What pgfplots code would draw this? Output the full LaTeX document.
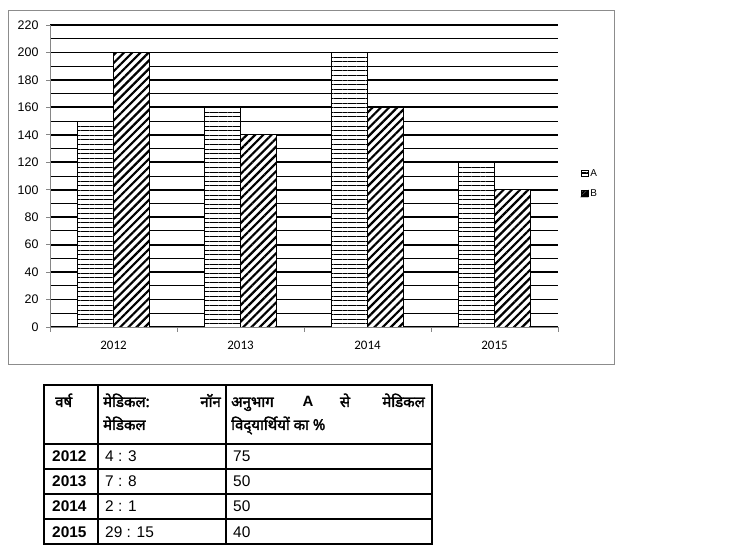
\documentclass[border=0pt]{standalone}
\usepackage{fontspec}
\setmainfont{Liberation Sans}
\newfontfamily\chartfont{Carlito}
\newfontfamily\devfont[Script=Devanagari, FakeBold=2.2]{Noto Sans}
\usepackage{pgfplots}
\pgfplotsset{compat=1.18}
\usetikzlibrary{patterns.meta}
\definecolor{axgray}{HTML}{868686}
\definecolor{framegray}{HTML}{8C8C8C}

\pgfplotstableread{
x  A    B
0  150  200
1  160  140
2  200  160
3  120  100
}\chartdata

\begin{document}
\begin{tikzpicture}
\useasboundingbox (0,0) rectangle (740bp,554bp);
% chart frame
\draw[framegray, line width=0.9bp] (8bp,190bp) rectangle (614bp,544bp);
\begin{axis}[
  at={(50bp,227bp)}, anchor=south west,
  scale only axis, width=508bp, height=302bp,
  xmin=-0.5, xmax=3.5, ymin=0, ymax=220,
  ytick={0,20,...,220}, minor ytick={10,30,...,210},
  xtick={0,1,2,3}, xticklabels={2012,2013,2014,2015},
  minor xtick={-0.5,0.5,1.5,2.5,3.5},
  axis lines*=left,
  axis line style={axgray, line width=0.8bp},
  tick align=outside,
  major tick length=4bp, minor tick length=5bp,
  major x tick style={draw=none},
  minor x tick style={axgray, line width=0.8bp},
  minor y tick style={draw=none},
  major y tick style={axgray, line width=0.8bp},
  ymajorgrids, yminorgrids,
  major grid style={black, line width=1.8bp},
  minor grid style={black, line width=0.9bp},
  ybar=0pt, bar width=36bp,
  /pgf/number format/assume math mode=true,
  xticklabel style={font=\chartfont\fontsize{13}{14}\selectfont, yshift=-7bp},
  yticklabel style={font=\fontsize{12.5}{13}\selectfont, xshift=-4bp},
  legend style={at={(1.039,0.475)}, anchor=west, draw=none, fill=none,
    font=\fontsize{10}{10}\selectfont, row sep=8bp,
    /tikz/every even column/.append style={column sep=1bp}},
]
\addplot[draw=black, line width=0.8bp, fill=white,
  postaction={pattern={Lines[angle=0, distance=4.6bp, line width=1bp]}},
  legend image code/.code={\draw[black, line width=0.6bp, fill=white]
    (0bp,-3bp) rectangle (6.5bp,3bp); \draw[black, line width=0.6bp] (0bp,0bp) -- (6.5bp,0bp);}]
  table[x=x, y=A] {\chartdata};
\addplot[draw=black, line width=0.8bp, fill=white,
  postaction={pattern={Lines[angle=45, distance=5.8bp, line width=2.2bp]}},
  legend image code/.code={\draw[black, line width=0.6bp, fill=white]
    (0bp,-3bp) rectangle (6.5bp,3bp); \fill[black] (6.5bp,-3bp) -- (6.5bp,3bp) -- (0bp,-3bp) -- cycle;}]
  table[x=x, y=B] {\chartdata};
\legend{A, B}
\end{axis}

% table below the chart
\begin{scope}[line width=1.2bp]
\draw (44bp,10bp) rectangle (432bp,169bp);
\foreach \yy in {110,85,60,35} \draw (44bp,\yy bp) -- (432bp,\yy bp);
\draw (98bp,10bp) -- (98bp,169bp);
\draw (226bp,10bp) -- (226bp,169bp);
\end{scope}
\begin{scope}[every node/.style={inner sep=0pt}]
\def\dv{\devfont\fontsize{15}{16}\selectfont}
\node[anchor=base west] at (55bp,147bp) {\dv वर्ष};
\node[anchor=base west] at (103bp,147bp) {\dv मेडिकल:};
\node[anchor=base east] at (221bp,147bp) {\dv नॉन};
\node[anchor=base west] at (103bp,124bp) {\dv मेडिकल};
\node[anchor=base west] at (231bp,147bp) {\dv अनुभाग};
\node[anchor=base] at (308bp,147bp) {\fontsize{15}{16}\selectfont\bfseries A};
\node[anchor=base] at (345bp,147bp) {\dv से};
\node[anchor=base east] at (425bp,147bp) {\dv मेडिकल};
\node[anchor=base west] at (231bp,124bp) {\dv विद्‌यार्थियों का \%};
\def\tb{\fontsize{15.5}{16}\selectfont}
\foreach \yr/\rat/\pc/\yy in {2012/{4 : 3}/75/92, 2013/{7 : 8}/50/67, 2014/{2 : 1}/50/42, 2015/{29 : 15}/40/17}{
  \node[anchor=base west] at (52bp,\yy bp) {\tb\bfseries \yr};
  \node[anchor=base west] at (105bp,\yy bp) {\tb \rat};
  \node[anchor=base west] at (233bp,\yy bp) {\tb \pc};
}
\end{scope}
\end{tikzpicture}
\end{document}
